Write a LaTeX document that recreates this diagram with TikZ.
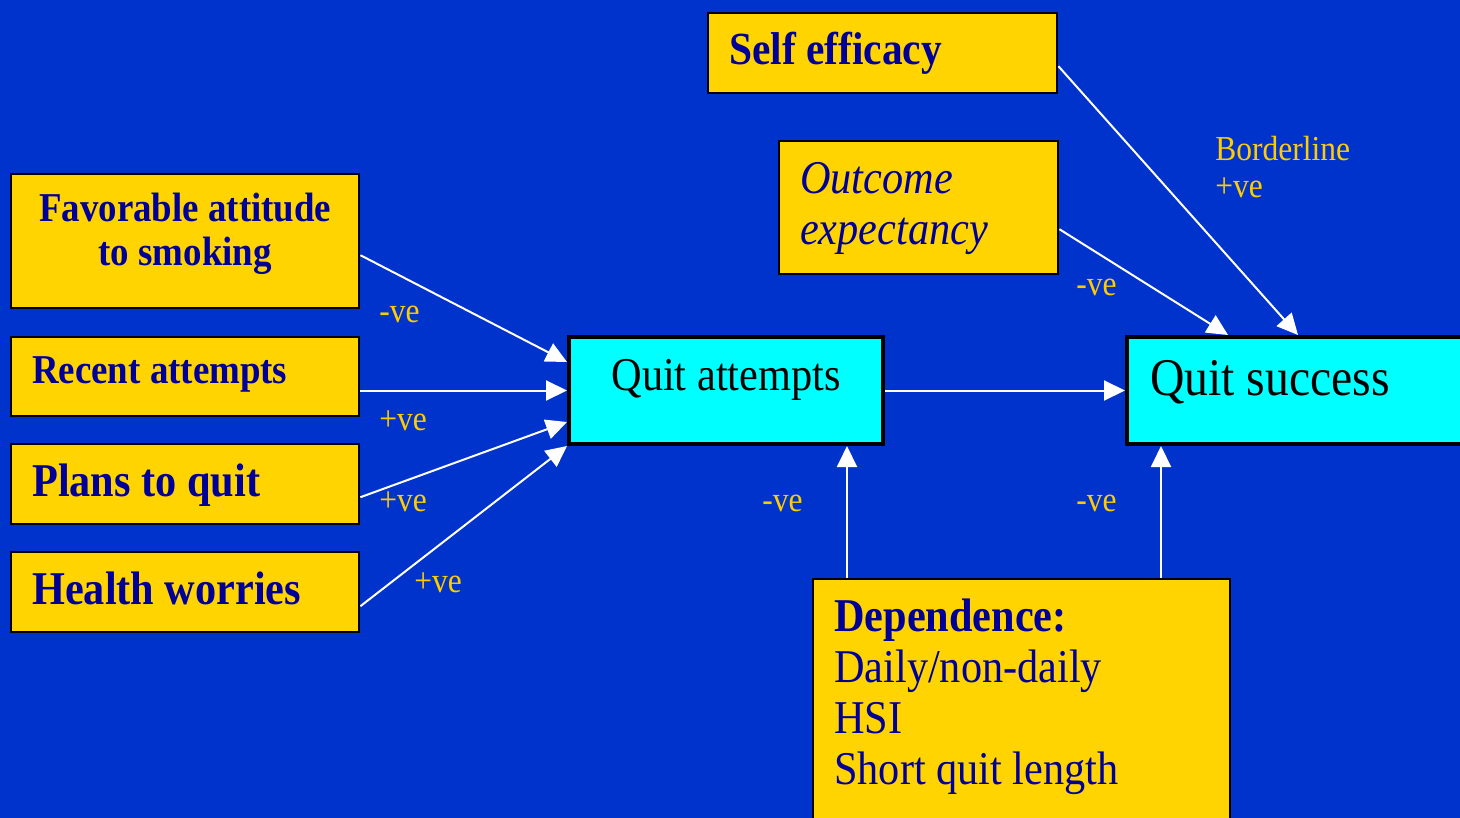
\documentclass[tikz,border=0pt]{standalone}
\usepackage{fontspec}
\setmainfont{Liberation Serif}[FakeStretch=0.9]
\usetikzlibrary{arrows.meta}
\definecolor{slideblue}{RGB}{0,51,204}
\definecolor{boxgold}{RGB}{255,212,0}
\definecolor{boxtext}{RGB}{0,0,153}
\definecolor{signgold}{RGB}{255,204,0}
\definecolor{boxcyan}{RGB}{0,255,255}

\begin{document}
\begin{tikzpicture}[x=0.5pt, y=-0.5pt,
  factor/.style={draw=black, line width=1.2pt, fill=boxgold, text=boxtext,
    anchor=north west, inner ysep=0pt, inner xsep=10.5pt, align=flush left},
  outcome/.style={draw=black, line width=2pt, fill=boxcyan, text=black,
    anchor=north west, inner ysep=0pt},
  flow/.style={draw=white, line width=1pt, -{Triangle[length=10.5pt, width=10pt]}},
  sign/.style={text=signgold, anchor=base west, inner sep=0pt,
    font=\fontsize{17.5pt}{18.5pt}\selectfont}]
% Coordinates are slide pixels: x to the right, y downwards (1px = 0.5pt).

% --- slide background ---
\useasboundingbox (0,0) rectangle (1460,818);
\fill[slideblue] (0,0) rectangle (1460,818);
\clip (0,0) rectangle (1460,818);

% --- predictors on the left ---
\node[factor, text width=153pt, align=flush center, minimum height=67pt,
  text height=14pt, text depth=34pt, font=\bfseries\fontsize{20.5pt}{22pt}\selectfont]
  (fa) at (10,173) {Favorable attitude\\to smoking};
\node[factor, text width=153pt, minimum height=39.5pt, text height=13pt, text depth=6.5pt,
  font=\bfseries\fontsize{20.5pt}{22pt}\selectfont] (ra) at (10,336) {Recent attempts};
\node[factor, text width=153pt, minimum height=40pt, text height=17pt, text depth=5pt,
  font=\bfseries\fontsize{23.5pt}{25pt}\selectfont] (pq) at (10,443) {Plans to quit};
\node[factor, text width=153pt, minimum height=40pt, text height=17pt, text depth=5pt,
  font=\bfseries\fontsize{23.5pt}{25pt}\selectfont] (hw) at (10,551) {Health worries};

% --- predictors on top ---
\node[factor, text width=153.5pt, minimum height=40pt, text height=16pt, text depth=5pt,
  font=\bfseries\fontsize{23pt}{25pt}\selectfont] (se) at (707,12) {Self efficacy};
\node[factor, text width=118.5pt, minimum height=66.5pt, text height=14pt, text depth=28.5pt,
  font=\itshape\fontsize{23.5pt}{25.5pt}\selectfont] (oe) at (778,140) {Outcome\\expectancy};

% --- outcomes ---
\node[outcome, minimum width=157pt, minimum height=53.5pt,
  text height=12pt, text depth=12pt, font=\fontsize{23.5pt}{25pt}\selectfont]
  (qa) at (567,335) {Quit attempts};
\node[outcome, inner xsep=11.5pt, text width=154.5pt, align=flush left, minimum height=53.5pt,
  text height=18pt, text depth=13.5pt, font=\fontsize{26.5pt}{28pt}\selectfont]
  (qs) at (1125,335) {Quit success};

% --- dependence ---
\node[factor, text width=187.5pt, minimum height=131pt, text height=12pt, text depth=91pt,
  font=\fontsize{23.5pt}{25.5pt}\selectfont]
  (dp) at (812,578) {{\bfseries Dependence:}\\Daily/non-daily\\HSI\\Short quit length};

% --- paths ---
\draw[flow] ([yshift=-7pt]fa.east) -- ([yshift=14.25pt]qa.west);
\draw[flow] (ra.east |- qa.west) -- (qa.west);
\draw[flow] ([yshift=-6.5pt]pq.east) -- ([yshift=-15.75pt]qa.west);
\draw[flow] ([yshift=-7pt]hw.east) -- (qa.south west);
\draw[flow] (qa.east) -- (qa.east -| qs.west);
\coordinate (qa in) at ([xshift=-19pt]qa.south east);
\coordinate (qs in) at ([xshift=18pt]qs.south west);
\draw[flow] (dp.north -| qa in) -- (qa in);
\draw[flow] (dp.north -| qs in) -- (qs in);
\draw[flow] ([yshift=-6.5pt]se.east) -- ([xshift=86.5pt]qs.north west);
\draw[flow] ([yshift=-10.75pt]oe.east) -- ([xshift=51.5pt]qs.north west);

% --- signs of the effects ---
\node[sign] (fa sign) at (379,322) {-ve};
\node[sign] (ra sign) at (379,430) {+ve};
\node[sign] (pq sign) at (379,511) {+ve};
\node[sign] (hw sign) at (414,592) {+ve};
\node[sign] (dqa sign) at (762,511) {-ve};
\node[sign] (dqs sign) at (1076,511) {-ve};
\node[sign] (oe sign) at (1076,295) {-ve};
\node[sign, align=left] (se sign) at (1215,198) {Borderline\\+ve};
\end{tikzpicture}
\end{document}
